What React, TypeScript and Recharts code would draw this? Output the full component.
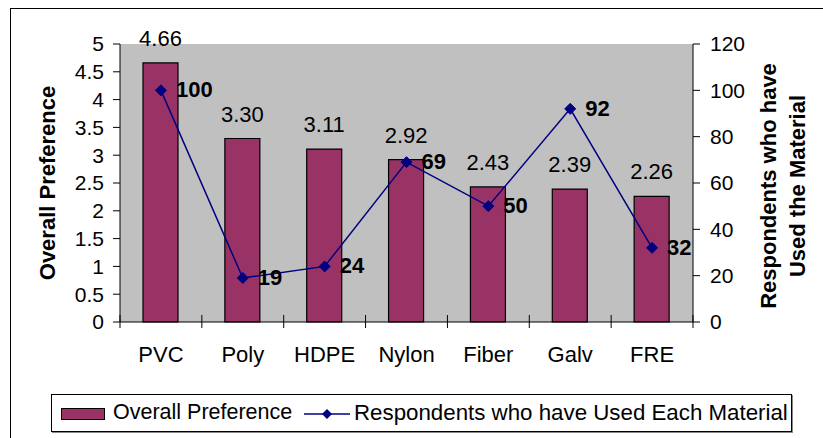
import React from "react";
import { ComposedChart, Bar, Line, XAxis, YAxis, CartesianGrid, LabelList } from "recharts";

const materials = ["PVC", "Poly", "HDPE", "Nylon", "Fiber", "Galv", "FRE"];
const overallPreference = [4.66, 3.3, 3.11, 2.92, 2.43, 2.39, 2.26];
const respondentsUsed = [100, 19, 24, 69, 50, 92, 32];
const preferenceTicks = [0, 0.5, 1, 1.5, 2, 2.5, 3, 3.5, 4, 4.5, 5];
const respondentTicks = [0, 20, 40, 60, 80, 100, 120];

const data = materials.map((name, i) => ({
  name,
  pref: overallPreference[i],
  resp: respondentsUsed[i],
}));

const FONT = "'Liberation Sans', Arial, sans-serif";
const W = 823;
const H = 438;
const PLOT_LEFT = 120;
const PLOT_RIGHT = 693;
const PLOT_TOP = 44;
const PLOT_BOTTOM = 322;
const BAND = (PLOT_RIGHT - PLOT_LEFT) / materials.length;
const BAR_COLOR = "#993366";
const LINE_COLOR = "#000080";

function XTick(props: any) {
  const { x, y, payload, index } = props;
  const last = index === materials.length - 1;
  return (
    <g>
      <line x1={x - BAND / 2} x2={x - BAND / 2} y1={y - 15} y2={y - 2} stroke="#000" />
      {last && <line x1={x + BAND / 2} x2={x + BAND / 2} y1={y - 15} y2={y - 2} stroke="#000" />}
      <text x={x} y={y + 32} textAnchor="middle" fontSize={22} fontFamily={FONT} fill="#000">
        {payload.value}
      </text>
    </g>
  );
}

function Diamond(props: any) {
  const { cx, cy } = props;
  if (cx == null || cy == null) return null;
  const r = 5.5;
  return (
    <polygon
      points={`${cx},${cy - r} ${cx + r},${cy} ${cx},${cy + r} ${cx - r},${cy}`}
      fill={LINE_COLOR}
      stroke={LINE_COLOR}
    />
  );
}

function BarValue(props: any) {
  const { x, y, width, value } = props;
  return (
    <text x={x + width / 2} y={y - 17} textAnchor="middle" fontSize={22} fontFamily={FONT} fill="#000">
      {Number(value).toFixed(2)}
    </text>
  );
}

function PointValue(props: any) {
  const { x, y, value } = props;
  return (
    <text x={x + 15} y={y + 7} fontSize={22} fontWeight="bold" fontFamily={FONT} fill="#000">
      {value}
    </text>
  );
}

function LeftTitle(props: any) {
  const vb = props.viewBox;
  const cx = vb.x + 47;
  const cy = vb.y + vb.height / 2;
  return (
    <text
      x={cx}
      y={cy}
      transform={`rotate(-90 ${cx} ${cy})`}
      textAnchor="middle"
      dominantBaseline="central"
      fontSize={22}
      fontWeight="bold"
      fontFamily={FONT}
      fill="#000"
    >
      Overall Preference
    </text>
  );
}

function RightTitle(props: any) {
  const vb = props.viewBox;
  const cy = vb.y + vb.height / 2 + 3;
  const lines = ["Respondents who have", "Used the Material"];
  return (
    <g>
      {lines.map((t, i) => {
        const cx = vb.x + 75 + i * 29;
        return (
          <text
            key={t}
            x={cx}
            y={cy}
            transform={`rotate(-90 ${cx} ${cy})`}
            textAnchor="middle"
            dominantBaseline="central"
            fontSize={22}
            fontWeight="bold"
            fontFamily={FONT}
            fill="#000"
          >
            {t}
          </text>
        );
      })}
    </g>
  );
}

export default function App() {
  return (
    <div style={{ position: "absolute", left: 0, top: 0, width: W, height: H, background: "#fff", overflow: "hidden", fontFamily: FONT }}>
      <div style={{ position: "absolute", left: 10, top: 8, width: 840, height: 460, border: "1.5px solid #000" }} />
      <div style={{ position: "absolute", left: 0, top: 0 }}>
        <ComposedChart
          width={W}
          height={H}
          data={data}
          barSize={35}
          margin={{ top: PLOT_TOP, right: 0, left: 0, bottom: H - PLOT_BOTTOM - 40 }}
        >
          <CartesianGrid fill="#C0C0C0" horizontal={false} vertical={false} stroke="none" />
          <XAxis
            dataKey="name"
            height={40}
            tickLine={false}
            tickSize={6}
            tickMargin={2}
            interval={0}
            axisLine={{ stroke: "#000" }}
            tick={<XTick />}
          />
          <YAxis
            yAxisId="left"
            orientation="left"
            width={PLOT_LEFT}
            domain={[0, 5]}
            ticks={preferenceTicks}
            interval={0}
            tickSize={7}
            tickMargin={9}
            axisLine={{ stroke: "#000" }}
            tickLine={{ stroke: "#000" }}
            tick={{ fill: "#000", fontSize: 21, fontFamily: FONT }}
            label={<LeftTitle />}
          />
          <YAxis
            yAxisId="right"
            orientation="right"
            width={W - PLOT_RIGHT}
            domain={[0, 120]}
            ticks={respondentTicks}
            interval={0}
            tickSize={7}
            tickMargin={10}
            axisLine={{ stroke: "#000" }}
            tickLine={{ stroke: "#000" }}
            tick={{ fill: "#000", fontSize: 21, fontFamily: FONT }}
            label={<RightTitle />}
          />
          <Bar yAxisId="left" dataKey="pref" fill={BAR_COLOR} stroke="#000" strokeWidth={1.2} isAnimationActive={false}>
            <LabelList dataKey="pref" content={<BarValue />} />
          </Bar>
          <Line
            yAxisId="right"
            dataKey="resp"
            type="linear"
            stroke={LINE_COLOR}
            strokeWidth={1.5}
            dot={<Diamond />}
            activeDot={false}
            isAnimationActive={false}
          >
            <LabelList dataKey="resp" content={<PointValue />} />
          </Line>
        </ComposedChart>
      </div>
      <div
        style={{
          position: "absolute",
          left: 51,
          top: 394,
          width: 741,
          height: 38,
          border: "1px solid #000",
          boxShadow: "1px 1px 0 #888",
          boxSizing: "border-box",
        }}
      >
        <div style={{ position: "absolute", left: 9, top: 13, width: 44, height: 12, background: BAR_COLOR, border: "1.5px solid #000", boxSizing: "border-box" }} />
        <div style={{ position: "absolute", left: 61, top: 5, fontSize: 21.5, lineHeight: "25px", color: "#000", whiteSpace: "nowrap" }}>
          Overall Preference
        </div>
        <svg style={{ position: "absolute", left: 251, top: 12 }} width={48} height={14}>
          <line x1={1} x2={47} y1={7} y2={7} stroke={LINE_COLOR} strokeWidth={1.5} />
          <polygon points="24,2 29,7 24,12 19,7" fill={LINE_COLOR} />
        </svg>
        <div style={{ position: "absolute", left: 302, top: 5, fontSize: 22.3, lineHeight: "25px", color: "#000", whiteSpace: "nowrap" }}>
          Respondents who have Used Each Material
        </div>
      </div>
    </div>
  );
}
